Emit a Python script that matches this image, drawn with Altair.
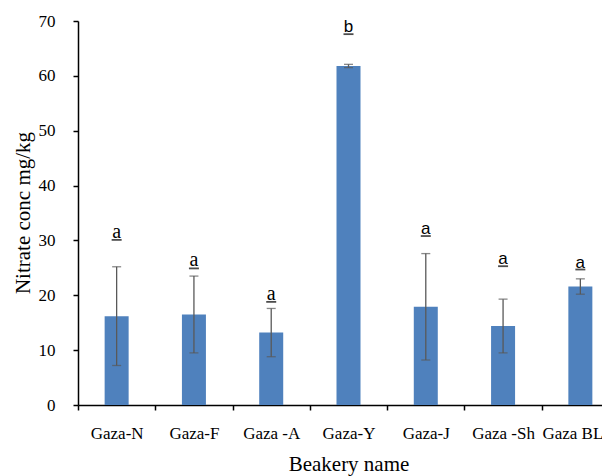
import altair as alt
import pandas as pd

names = ["Gaza-N", "Gaza-F", "Gaza -A", "Gaza-Y", "Gaza-J", "Gaza -Sh", "Gaza BL"]
means = [16.2, 16.5, 13.2, 61.8, 17.9, 14.4, 21.6]
errors = [9.0, 7.0, 4.4, 0.3, 9.7, 4.9, 1.4]
letters = ["a", "a", "a", "b", "a", "a", "a"]
letter_y = [30.1, 24.9, 18.8, 67.6, 30.8, 25.3, 24.7]
y_ticks = [0, 10, 20, 30, 40, 50, 60, 70]

df = pd.DataFrame({"name": names, "mean": means, "err": errors,
                   "letter": letters, "ly": letter_y})
df["lo"] = df["mean"] - df["err"]
df["hi"] = df["mean"] + df["err"]

FONT = "Liberation Serif"
SANS = "Liberation Sans"

x_axis = alt.Axis(labelAngle=0, tickBand="extent", tickSize=5, tickWidth=1.5,
                  tickColor="black", domainColor="black", domainWidth=1.5,
                  labelFont=FONT, labelFontSize=17, labelColor="black",
                  labelBaseline="alphabetic", labelPadding=28,
                  labelOffset=alt.ConditionalAxisNumber(
                      condition={"test": "datum.value === 'Gaza BL'", "value": -8},
                      value=0),
                  titleFont=FONT, titleFontSize=21, titleFontWeight="normal",
                  titleColor="black", titleBaseline="alphabetic", titleY=65,
                  titleX=270.5, titleAlign="center")
y_axis = alt.Axis(values=y_ticks, grid=False, tickSize=5, tickWidth=1.5,
                  tickColor="black", domainColor="black", domainWidth=1.5,
                  labelFont=FONT, labelFontSize=17, labelColor="black",
                  labelPadding=18,
                  titleFont=FONT, titleFontSize=21, titleFontWeight="normal",
                  titleColor="black", titleAngle=270, titleAlign="center",
                  titleBaseline="middle", titleX=-55, titleY=191.5)

x_scale = alt.Scale(range=[0, 541], paddingInner=0, paddingOuter=0)
y_scale = alt.Scale(domain=[0, 70], nice=False, zero=True)


def xe():
    return alt.X("name:N", sort=names, title="Beakery name", scale=x_scale, axis=x_axis)


def ye(field):
    return alt.Y(f"{field}:Q", title="Nitrate conc mg/kg", scale=y_scale, axis=y_axis)


base = alt.Chart(df)

bars = base.mark_bar(size=24, color="#4F81BD").encode(x=xe(), y=ye("mean"))
rules = base.mark_rule(color="#595959", strokeWidth=1.3).encode(
    x=xe(), y=ye("lo"), y2="hi:Q")
cap_lo = base.mark_tick(orient="horizontal", size=9, thickness=1.3,
                        color="#595959").encode(x=xe(), y=ye("lo"))
cap_hi = base.mark_tick(orient="horizontal", size=9, thickness=1.3,
                        color="#595959").encode(x=xe(), y=ye("hi"))
serif_names = ["Gaza-N", "Gaza-F", "Gaza -A"]
txt_serif = base.transform_filter(
    alt.FieldOneOfPredicate(field="name", oneOf=serif_names)
).mark_text(font=FONT, fontSize=20, baseline="alphabetic", dy=-2,
            color="black").encode(x=xe(), y=ye("ly"), text="letter:N")
txt_sans = base.transform_filter(
    ~alt.FieldOneOfPredicate(field="name", oneOf=serif_names)
).mark_text(font=SANS, fontSize=17, baseline="alphabetic", dy=-2,
            color="black").encode(x=xe(), y=ye("ly"), text="letter:N")
underline = base.mark_tick(orient="horizontal", size=10, thickness=1.8,
                           color="black").encode(x=xe(), y=ye("ly"))

chart = alt.layer(bars, rules, cap_lo, cap_hi, txt_serif, txt_sans, underline).properties(
    width=524, height=384,
    autosize=alt.AutoSizeParams(type="none"),
    padding={"left": 70, "top": 13, "right": 0, "bottom": 71},
    background="white",
).configure_view(stroke=None)

chart.save("out.html", embed_options={"renderer": "svg", "actions": False})
